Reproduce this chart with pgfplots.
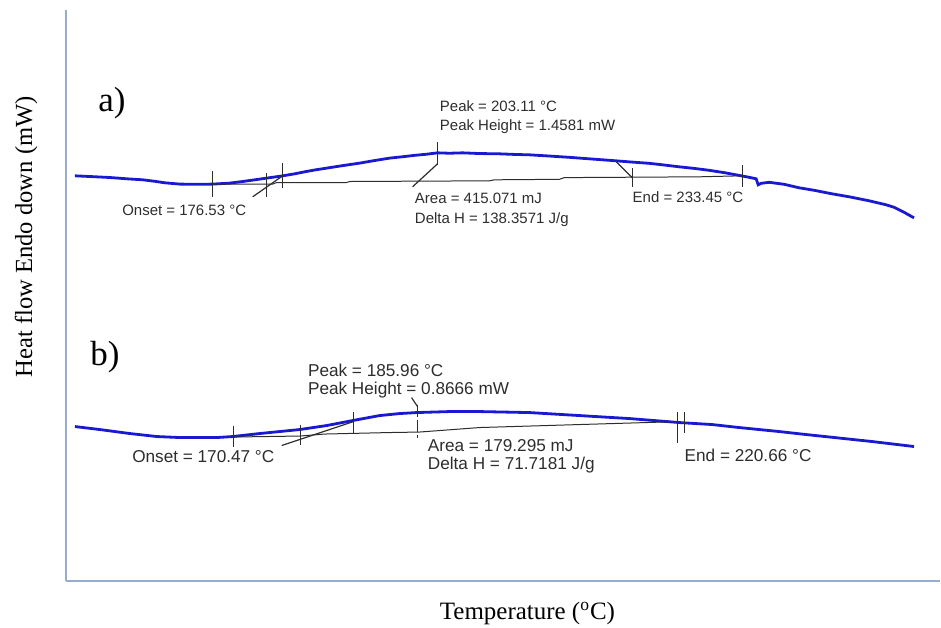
\documentclass[border=0pt]{standalone}
\usepackage{pgfplots}
\pgfplotsset{compat=1.18}
\usepackage{fontspec}
\setmainfont{Liberation Serif}
\newfontfamily\arial{Liberation Sans}
\definecolor{curveblue}{RGB}{25,25,210}
\definecolor{axcol}{RGB}{150,174,205}
\definecolor{ann}{RGB}{45,45,45}
\begin{document}
\begin{tikzpicture}
\begin{axis}[
  x=0.5pt, y=0.5pt,
  xmin=66, xmax=941, ymin=46, ymax=618,
  axis x line=bottom, axis y line=left,
  axis line style={-, axcol, line width=1pt},
  xtick=\empty, ytick=\empty,
  clip=false,
]
\path (axis cs:0,0) rectangle (axis cs:941,628);
% curve a
\addplot[curveblue, line width=1.4pt] coordinates {
(75,452) (92,451.2) (110,450.3) (127,449) (143,448) (155,446.5) (165,445) (180,443.7) (200,443.5) (213,443.7)
(230,444.7) (243,446.3) (255,448) (267,449.7) (283,452) (295,454) (305,456) (316,458) (327,459.7) (343,462.2)
(360,464.7) (375,467.3) (390,469.7) (405,471.3) (415,472.5) (427,473.6) (438,475) (450,474.6) (463,475)
(480,474.3) (500,474) (515,473.4) (530,473) (550,471.8) (570,470.5) (590,469) (613,467.3) (632,465.8)
(650,464.5) (665,462.8) (680,461) (695,459.4) (710,457.5) (726,455) (742,452) (750,450.5) (757,449)
(759,443) (762,444.5) (770,445.5) (785,443.5) (800,440) (815,437.5) (830,434.5) (850,431) (870,427)
(887,423) (895,420.5) (905,415.5) (913,411) (915,410)};
% curve b
\addplot[curveblue, line width=1.4pt] coordinates {
(75,201) (100,198) (130,194) (157,191) (180,190) (217,190) (233,191) (260,194) (280,196) (300,198)
(327,202) (353,207) (380,212) (400,214) (417,215) (450,216) (480,216) (530,215) (580,212) (630,209)
(680,205) (713,203) (740,200) (780,196) (807,193) (840,189.5) (873,186) (915,181)};
% baselines
\addplot[ann, line width=0.5pt] coordinates {
(213,443.7) (273,443.7) (277,445.3) (347,445.3) (350,446.3) (490,447) (495,448) (560,448.5) (565,450.2) (700,451) (742,452)};
\addplot[ann, line width=0.5pt] coordinates {
(233,190.5) (300,191.5) (325,193.5) (390,195) (420,195.5) (480,200) (580,203) (680,206)};
% annotation ticks a
\addplot[ann, line width=0.7pt] coordinates {(213,457) (213,431)};
\addplot[ann, line width=0.7pt] coordinates {(267,455) (267,431)};
\addplot[ann, line width=0.7pt] coordinates {(283,465) (283,440)};
\addplot[ann, line width=0.6pt] coordinates {(253,431) (283,452)};
\addplot[ann, line width=0.7pt] coordinates {(438,486) (438,463)};
\addplot[ann, line width=0.6pt] coordinates {(438,464) (413,441)};
\addplot[ann, line width=0.6pt] coordinates {(617,466) (633,450)};
\addplot[ann, line width=0.7pt] coordinates {(633,460) (633,441)};
\addplot[ann, line width=0.7pt] coordinates {(743,463) (743,441)};
% annotation ticks b
\addplot[ann, line width=0.7pt] coordinates {(234,202) (234,181)};
\addplot[ann, line width=0.7pt] coordinates {(301,203) (301,183)};
\addplot[ann, line width=0.6pt] coordinates {(282,182) (354,206)};
\addplot[ann, line width=0.7pt] coordinates {(354,216) (354,195)};
\addplot[ann, line width=0.7pt, dash pattern=on 6pt off 1.5pt] coordinates {(418,223) (418,190)};
\addplot[ann, line width=0.6pt] coordinates {(412,230) (418,221)};
\addplot[ann, line width=0.7pt] coordinates {(678,216) (678,185)};
\addplot[ann, line width=0.7pt] coordinates {(685,216) (685,195)};
\begin{scope}[every node/.style={text=ann, inner sep=0pt}]
% texts a
\node[anchor=west, font=\arial\fontsize{7.5}{9.5}\selectfont] at (axis cs:122,417) {Onset = 176.53 °C};
\node[anchor=west, align=left, font=\arial\fontsize{7.5}{9.5}\selectfont] at (axis cs:440,510.5) {Peak = 203.11 °C\\Peak Height = 1.4581 mW};
\node[anchor=west, align=left, font=\arial\fontsize{7.5}{9.8}\selectfont] at (axis cs:415,418) {Area = 415.071 mJ\\Delta H = 138.3571 J/g};
\node[anchor=west, font=\arial\fontsize{7.5}{9.5}\selectfont] at (axis cs:633,431) {End = 233.45 °C};
% texts b
\node[anchor=west, font=\arial\fontsize{8.6}{9}\selectfont] at (axis cs:132,171) {Onset = 170.47 °C};
\node[anchor=west, align=left, font=\arial\fontsize{8.6}{9}\selectfont] at (axis cs:308,247) {Peak = 185.96 °C\\Peak Height = 0.8666 mW};
\node[anchor=west, align=left, font=\arial\fontsize{8.6}{9}\selectfont] at (axis cs:428,171) {Area = 179.295 mJ\\Delta H = 71.7181 J/g};
\node[anchor=west, font=\arial\fontsize{8.6}{9}\selectfont] at (axis cs:685,172) {End = 220.66 °C};
% panel letters
\node[text=black, font=\fontsize{17.5}{20}\selectfont] at (axis cs:112,525) {a)};
\node[text=black, font=\fontsize{17.5}{20}\selectfont] at (axis cs:105,271) {b)};
% axis labels
\node[text=black, rotate=90, font=\fontsize{12.3}{14}\selectfont] at (axis cs:26,391) {Heat flow Endo down (mW)};
\node[text=black, font=\fontsize{12.5}{14}\selectfont] at (axis cs:528,14) {Temperature (\textsuperscript{o}C)};
\end{scope}
\end{axis}
\end{tikzpicture}
\end{document}
